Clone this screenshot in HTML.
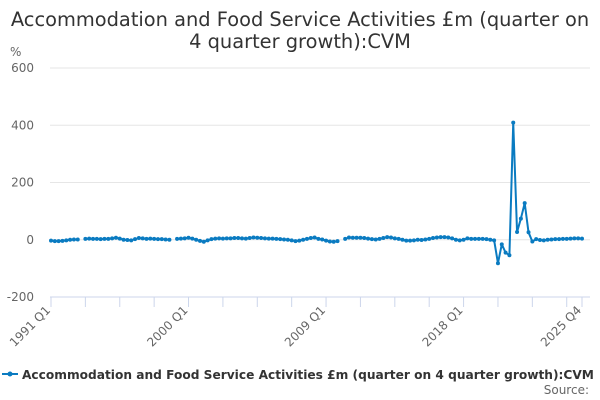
<!DOCTYPE html>
<html><head><meta charset="utf-8"><style>
body{margin:0;background:#fff;font-family:"DejaVu Sans","Liberation Sans",sans-serif}
svg{display:block}
</style></head><body>
<svg id="chart" width="600" height="400">
<text x="300" y="26" text-anchor="middle" font-size="19.4" fill="#333">Accommodation and Food Service Activities £m (quarter on</text>
<text x="300" y="48" text-anchor="middle" font-size="19.4" fill="#333">4 quarter growth):CVM</text>
<text x="10" y="56" font-size="12" fill="#666">%</text>
<g id="grid"></g><g id="xaxis"></g><g id="series"></g>
<g>
<line x1="2" y1="374" x2="18" y2="374" stroke="#0a7bc1" stroke-width="2"/>
<circle cx="10" cy="374" r="2.5" fill="#0a7bc1"/>
<text x="22" y="379" font-size="12.2" font-weight="bold" fill="#333">Accommodation and Food Service Activities £m (quarter on 4 quarter growth):CVM</text>
</g>
<text x="589" y="394" text-anchor="end" font-size="12" fill="#666">Source:</text>
</svg>
<script>
const yTicks=[600,400,200,0,-200];
const xLabelIdx=[0,36,72,108,139];
const xLabels=["1991 Q1","2000 Q1","2009 Q1","2018 Q1","2025 Q4"];
const values=[-3,-5,-5,-4,-2,0,1,1,null,
3,4,3,3,2,3,3,5,7,4,0,-1,-2,2,6,5,3,4,3,2,2,1,0,null,
3,4,5,7,4,0,-4,-7,-2,2,4,5,4,5,5,6,6,5,4,6,8,7,6,5,4,4,3,2,1,0,-2,-5,-3,0,3,6,8,3,1,-3,-6,-7,-5,null,
3,8,7,7,7,6,4,2,1,3,6,9,8,5,3,0,-3,-3,-2,0,-1,1,3,6,8,9,9,8,5,0,-2,0,5,3,3,3,3,2,0,-2,
-82,-16,-45,-54,409,27,74,128,26,-6,2,-1,-2,0,1,2,2,3,3,4,5,5,4];
const svgNS="http://www.w3.org/2000/svg";
const X0=51,X1=582,Y0=239.75,PX=57.25/200;
const n=140;
function xs(i){return X0+(X1-X0)*i/(n-1);}
function ys(v){return Y0-v*PX;}
function mk(tag,attrs,parent){const e=document.createElementNS(svgNS,tag);for(const k in attrs)e.setAttribute(k,attrs[k]);parent.appendChild(e);return e;}
const grid=document.getElementById('grid');
yTicks.forEach(t=>{
  const l=mk('line',{x1:50,x2:590,y1:ys(t),y2:ys(t),stroke:t===-200?'#ccd6eb':'#e6e6e6','stroke-width':1},grid);
  
  
  const tx=mk('text',{x:34,y:ys(t)+4,'text-anchor':'end','font-size':12,fill:'#666'},grid);
  tx.textContent=t;
  
  
});
const xa=document.getElementById('xaxis');
for(let i=0;i<n;i+=9){
  const l=mk('line',{x1:xs(i),x2:xs(i),y1:297,y2:307,stroke:'#ccd6eb'},xa);
  
  
}
mk('line',{x1:X1,x2:X1,y1:297,y2:307,stroke:'#ccd6eb'},xa);
xLabelIdx.forEach((idx,k)=>{
  const x=xs(idx),y=311;
  const t=mk('text',{x:x,y:y,'text-anchor':'end','font-size':12,fill:'#666',transform:`rotate(-45 ${x} ${y})`},xa);
  t.textContent=xLabels[k];
  
  
});
const sg=document.getElementById('series');
let d='',pen=false;
values.forEach((v,i)=>{
  if(v===null){pen=false;return;}
  d+=(pen?'L':'M')+xs(i).toFixed(2)+' '+ys(v).toFixed(2)+' ';pen=true;
});
const p=mk('path',{d:d,fill:'none',stroke:'#0a7bc1','stroke-width':2,'stroke-linejoin':'round'},sg);


values.forEach((v,i)=>{
  if(v===null)return;
  const c=mk('circle',{cx:xs(i),cy:ys(v),r:2,fill:'#0a7bc1'},sg);
  
  
});
</script>
</body></html>
